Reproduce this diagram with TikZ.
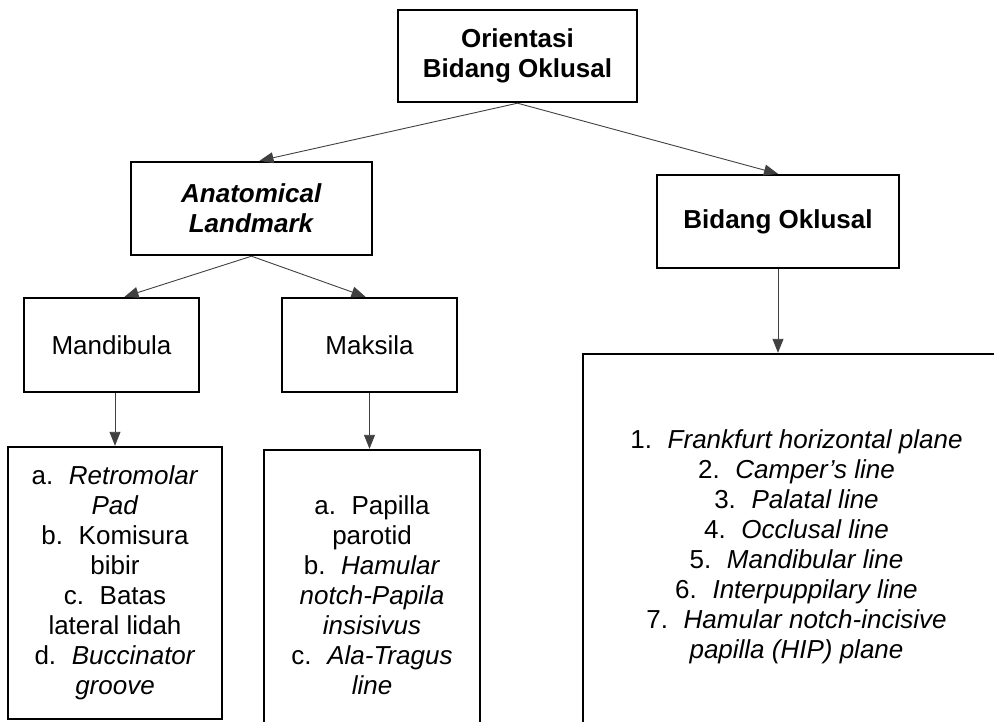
\documentclass[tikz,border=0pt]{standalone}
\usepackage{fontspec}
\setmainfont{Liberation Sans}
\usetikzlibrary{arrows.meta}

\begin{document}
\begin{tikzpicture}[x=1pt,y=-1pt,>={Triangle[width=11pt,length=14pt]},
    every node/.style={font=\fontsize{26}{30}\selectfont},
    box/.style={draw,line width=2.4pt,align=center,inner sep=0pt},
    link/.style={->,line width=0.9pt,black!75}]
  \useasboundingbox (0,0) rectangle (994,722);
  \clip (0,0) rectangle (994,722);

  \node[box,minimum width=239pt,minimum height=92pt] (orient) at (517.5,56)
        {\textbf{Orientasi}\\\textbf{Bidang Oklusal}};
  \node[box,minimum width=241pt,minimum height=93pt] (anat) at (251.5,208.5)
        {\textbf{\textit{Anatomical}}\\\textbf{\textit{Landmark}}};
  \node[box,minimum width=242pt,minimum height=93pt] (bidang) at (778,221.5)
        {\textbf{Bidang Oklusal}};
  \node[box,minimum width=175pt,minimum height=94pt] (mandibula) at (111.5,345) {Mandibula};
  \node[box,minimum width=175pt,minimum height=94pt] (maksila) at (369.5,345) {Maksila};

  \node[box,minimum width=214pt,minimum height=272pt] (mandlist) at (115,583)
        {a.\hspace{0.6em}\textit{Retromolar}\\\textit{Pad}\\
         b.\hspace{0.6em}Komisura\\bibir\\
         c.\hspace{0.6em}Batas\\lateral lidah\\
         d.\hspace{0.6em}\textit{Buccinator}\\\textit{groove}};
  \node[box,minimum width=216pt,minimum height=290pt] (makslist) at (372,595)
        {a.\hspace{0.6em}Papilla\\parotid\\
         b.\hspace{0.6em}\textit{Hamular}\\\textit{notch-Papila}\\\textit{insisivus}\\
         c.\hspace{0.6em}\textit{Ala-Tragus}\\\textit{line}};
  \node[box,minimum width=427pt,minimum height=386pt] (planes) at (796.5,547)
        {1.\hspace{0.6em}\textit{Frankfurt horizontal plane}\\
         2.\hspace{0.6em}\textit{Camper’s line}\\
         3.\hspace{0.6em}\textit{Palatal line}\\
         4.\hspace{0.6em}\textit{Occlusal line}\\
         5.\hspace{0.6em}\textit{Mandibular line}\\
         6.\hspace{0.6em}\textit{Interpuppilary line}\\
         7.\hspace{0.6em}\textit{Hamular notch-incisive}\\
         \textit{papilla (HIP) plane}};

  \path[link] (orient.south) edge ([xshift=8pt]anat.north)
              (orient.south) edge (bidang.north)
              (anat.south) edge ([xshift=13pt]mandibula.north)
              (anat.south) edge ([xshift=-4pt]maksila.north);
  \draw[link] (mandibula.south -| mandlist.north) -- (mandlist.north);
  \draw[link] (maksila.south) -- (maksila.south |- makslist.north);
  \draw[link] (bidang.south) -- (bidang.south |- planes.north);
\end{tikzpicture}
\end{document}
